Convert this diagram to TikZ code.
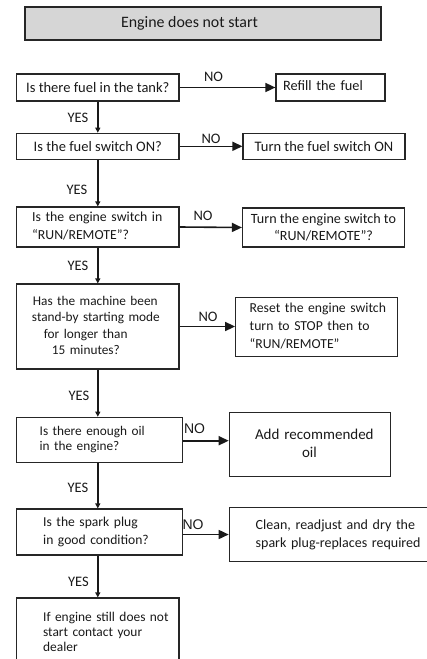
\documentclass[tikz,border=0pt]{standalone}
\usepackage{fontspec}
\setmainfont{Carlito}
\newfontfamily\arialfont{Liberation Sans}
\usepackage{tikz}
\usetikzlibrary{positioning,calc,arrows.meta}

% left-aligned block of lines, indented from the box edge
\newcommand{\boxlines}[2]{\hspace*{#1}\begin{tabular}{@{}l@{}}#2\end{tabular}}

\begin{document}
\begin{tikzpicture}[
    x=1pt, y=-1pt,
    every node/.style={text=black!90},
    fs/.style 2 args={font=\fontsize{#1}{#2}\selectfont},
    box/.style={draw=black!85, line width=1.2pt, rectangle, inner sep=0pt},
    cbox/.style={box, align=center},
    lbox/.style={box, align=left, inner xsep=0pt, text width=#1, minimum width=#1},
    headbox/.style={box, fill=black!16},
    answer/.style={inner sep=0pt, fs={14.5}{17}},
    arialno/.style={inner sep=0pt, font=\arialfont\fontsize{14}{16}\selectfont},
    flow/.style={draw=black!90, line width=1.6pt, -{Triangle[length=10pt,width=9pt]}},
    down/.style={draw=black!90, line width=1.4pt, -{Triangle[length=5pt,width=5pt]}},
]
\useasboundingbox (0,0) rectangle (426,659);

% =====================================================================
% Title
% =====================================================================
\node[headbox, fs={15.9}{18}, minimum width=356pt, minimum height=33pt] (start) at (203,23.5)
    {\hspace*{-27pt}Engine does not start};

% =====================================================================
% Questions (left column)
% =====================================================================
\node[cbox, fs={14.5}{17}, minimum width=162.3pt, minimum height=27pt] (fuel) at (97.8,87.5)
    {Is there fuel in the tank?};
\node[cbox, fs={14.5}{17}, minimum width=162.3pt, minimum height=26pt] (switch) at (97.8,146.3)
    {Is the fuel switch ON?};
\node[lbox=162.3pt, fs={13.8}{18}, minimum height=40pt] (engsw) at (97.8,227)
    {\boxlines{15.5pt}{Is the engine switch in\\ “RUN/REMOTE”?}};
\node[lbox=162.3pt, fs={13.3}{16.5}, minimum height=85pt] (standby) at (97.8,326.5)
    {\boxlines{15.3pt}{\hspace*{1pt}Has the machine been\\ stand-by starting mode\\
     \hspace*{12pt}for longer than\\ \hspace*{20pt}15 minutes?}};
\node[lbox=166pt, fs={13.3}{15}, minimum height=45pt] (oil) at (99.7,439.8)
    {\boxlines{23pt}{Is there enough oil\\ in the engine?}};
\node[lbox=166pt, fs={13.6}{18}, minimum height=46pt] (plug) at (99.7,532)
    {\boxlines{26.5pt}{Is the spark plug\\ in good condition?}};
\node[lbox=162.3pt, fs={13.4}{15}, minimum height=70pt] (dealer) at (97.8,633)
    {\boxlines{26.5pt}{If engine still does not\\ start contact your\\ dealer}};

% =====================================================================
% Remedies (right column)
% =====================================================================
\node[lbox=109pt, fs={14.3}{17}, minimum height=27pt] (refill) at (330.5,87.5)
    {\boxlines{7pt}{Refill the fuel}};
\node[cbox, fs={14.5}{17}, minimum width=162pt, minimum height=26pt] (turnon) at (324,146.3)
    {Turn the fuel switch ON};
\node[cbox, fs={14.1}{17}, minimum width=162pt, minimum height=39pt] (turnrun) at (323.5,227.5)
    {Turn the engine switch to\\ “RUN/REMOTE”?};
\node[lbox=161.6pt, fs={13.7}{18}, minimum height=59pt] (reset) at (316.5,327.2)
    {\boxlines{14pt}{Reset the engine switch\\ turn to STOP then to\\ “RUN/REMOTE”}};
\node[lbox=161.4pt, fs={15}{18}, minimum height=64pt] (addoil) at (310,444.7)
    {\boxlines{25.7pt}{Add recommended\\ \hspace*{47pt}oil}};
\node[lbox=215pt, fs={14}{18}, minimum height=54.4pt] (clean) at (336.8,534.5)
    {\boxlines{26.4pt}{Clean, readjust and dry the\\ spark plug-replaces required}};

% =====================================================================
% Connectors
% =====================================================================
\draw[flow] (fuel.east) -- (refill.west);
\draw[flow] (switch.east) -- (turnon.west);
\draw[flow] (engsw.east) -- (turnrun.west);
\draw[flow] (standby.east) -- (standby.east -| reset.west);
\draw[flow] ([yshift=-0.9pt]oil.east) -- ([yshift=-0.9pt]oil.east -| addoil.west);
\draw[flow] (clean.west -| plug.east) -- (clean.west);

\draw[down] (fuel.south) -- (switch.north);
\draw[down] (switch.south) -- (engsw.north);
\draw[down] (engsw.south) -- (standby.north);
\draw[down] (standby.south) -- (oil.north -| standby);
\draw[down] (oil.south -| standby) -- (plug.north -| standby);
\draw[down] (plug.south -| standby) -- (dealer.north);

% NO / YES labels
\node[answer] (no1) at (213.5,77) {NO};
\node[answer] (no2) at (211,139) {NO};
\node[answer] (no3) at (203,215.5) {NO};
\node[answer] (no4) at (208,317) {NO};
\node[arialno] (no5) at (194.5,428.5) {NO};
\node[arialno] (no6) at (193,525) {NO};

\node[answer] (yes1) at (78,118) {YES};
\node[answer] (yes2) at (77,190) {YES};
\node[answer] (yes3) at (78,266) {YES};
\node[answer] (yes4) at (79,396) {YES};
\node[answer] (yes5) at (78,488) {YES};
\node[answer] (yes6) at (78.5,582) {YES};

\end{tikzpicture}
\end{document}
